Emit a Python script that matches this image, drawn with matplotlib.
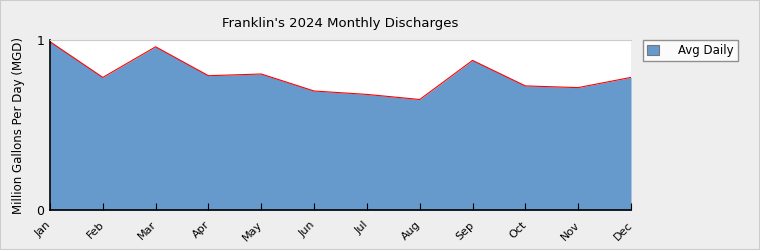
import matplotlib
matplotlib.use("Agg")
import matplotlib.pyplot as plt
import matplotlib.transforms as mtransforms
from matplotlib.patches import Rectangle

months = ['Jan', 'Feb', 'Mar', 'Apr', 'May', 'Jun', 'Jul', 'Aug', 'Sep', 'Oct', 'Nov', 'Dec']
avg_daily = [0.99, 0.78, 0.96, 0.79, 0.80, 0.70, 0.68, 0.65, 0.88, 0.73, 0.72, 0.78]

fig = plt.figure(figsize=(7.6, 2.5), dpi=100, facecolor='#eeeeee')
fig.patches.append(Rectangle((0, 0), 1, 1, transform=fig.transFigure,
                             fill=False, edgecolor='#cccccc', linewidth=1.5))
ax = fig.add_axes([50 / 760, 40 / 250, 581 / 760, 170 / 250])

x = list(range(len(months)))
ax.fill_between(x, avg_daily, 0, color='#6699cc', linewidth=0, label='Avg Daily')
ax.plot(x, avg_daily, color='red', linewidth=0.8)

ax.set_xlim(0, len(months) - 1)
ax.set_ylim(0, 1)
ax.set_yticks([0, 1])
ax.set_yticklabels(['0', '1'], fontsize=9)
ax.tick_params(axis='y', length=0, pad=4)
ax.set_xticks(x)
ax.set_xticklabels(months, rotation=45, ha='right', rotation_mode='anchor', fontsize=8)
ax.tick_params(axis='x', direction='in', length=5, pad=7)
shift = mtransforms.ScaledTranslation(-4 / 100, 0, fig.dpi_scale_trans)
for lbl in ax.get_xticklabels():
    lbl.set_transform(lbl.get_transform() + shift)

ax.spines['top'].set_color('#cccccc')
ax.spines['right'].set_visible(False)
ax.spines['left'].set_linewidth(1.2)
ax.spines['bottom'].set_linewidth(1.2)

ax.set_ylabel('Million Gallons Per Day (MGD)', fontsize=8.5, labelpad=8)
ax.set_title("Franklin's 2024 Monthly Discharges", fontsize=9.5, pad=9)

leg = fig.legend(loc='upper left', bbox_to_anchor=(643 / 760, 1 - 40 / 250),
                 fontsize=8.5, frameon=True, fancybox=False, handlelength=1.0,
                 handleheight=1.0, borderpad=0.35, handletextpad=1.6,
                 borderaxespad=0)
leg.get_frame().set_edgecolor('#777777')
leg.get_frame().set_facecolor('white')
leg.legend_handles[0].set_edgecolor('#777777')
leg.legend_handles[0].set_linewidth(0.8)

fig.savefig('out.png', dpi=100, facecolor=fig.get_facecolor())
